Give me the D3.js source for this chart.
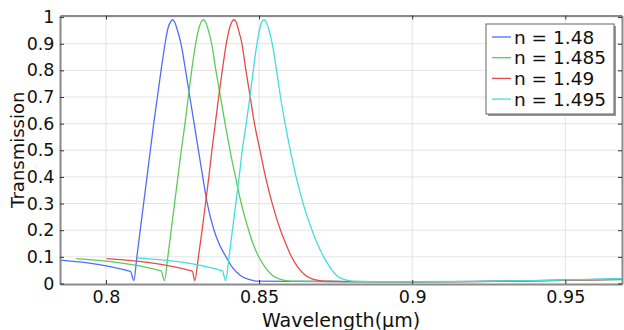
<!DOCTYPE html>
<html lang="en">
<head>
<meta charset="utf-8">
<script src="https://cdn.jsdelivr.net/npm/d3@7"></script>
<style>
  body { margin: 0; background: #fff; }
  svg { font-family: "DejaVu Sans", sans-serif; }
</style>
</head>
<body>
<div id="chart"></div>
<script>
// series names and colours
var names = ["n = 1.48", "n = 1.485", "n = 1.49", "n = 1.495"];
var colors = ["#4f6ef7", "#5bcc5b", "#e84a4a", "#44dddd"];

// wavelength (µm) / transmission
var lam148 = [0.7800, 0.8080, 0.8091, 0.8101, 0.8112, 0.8123, 0.8134, 0.8145, 0.8156, 0.8168, 0.8180, 0.8193, 0.8203, 0.8210, 0.8217,
  0.8225, 0.8231, 0.8245, 0.8260, 0.8274, 0.8288, 0.8302, 0.8316, 0.8331, 0.8353, 0.8369, 0.8392, 0.8413, 0.8439, 0.8466, 0.8492,
  0.8600, 0.8800, 0.9000, 0.9200, 0.9400, 0.9700];
var t148 = [0.092, 0.045, 0.011, 0.100, 0.200, 0.300, 0.400, 0.500, 0.600, 0.700, 0.800, 0.900, 0.960, 0.980, 0.990,
  0.980, 0.960, 0.900, 0.800, 0.700, 0.600, 0.500, 0.400, 0.300, 0.200, 0.150, 0.100, 0.060, 0.030, 0.015, 0.009,
  0.008, 0.007, 0.006, 0.008, 0.011, 0.017];

var lam1485 = [0.7903, 0.8180, 0.8191, 0.8202, 0.8213, 0.8224, 0.8235, 0.8246, 0.8258, 0.8269, 0.8280, 0.8293, 0.8304, 0.8310, 0.8318,
  0.8326, 0.8332, 0.8345, 0.8359, 0.8374, 0.8389, 0.8405, 0.8423, 0.8442, 0.8466, 0.8480, 0.8499, 0.8520, 0.8544, 0.8570, 0.8603,
  0.8800, 0.9000, 0.9200, 0.9400, 0.9700];
var t1485 = [0.093, 0.047, 0.011, 0.100, 0.200, 0.300, 0.400, 0.500, 0.600, 0.700, 0.800, 0.900, 0.960, 0.980, 0.990,
  0.980, 0.960, 0.900, 0.800, 0.700, 0.600, 0.500, 0.400, 0.300, 0.200, 0.150, 0.100, 0.060, 0.030, 0.015, 0.009,
  0.007, 0.006, 0.007, 0.010, 0.015];

var lam149 = [0.8002, 0.8282, 0.8290, 0.8302, 0.8314, 0.8325, 0.8336, 0.8346, 0.8357, 0.8368, 0.8380, 0.8393, 0.8404, 0.8410, 0.8418,
  0.8426, 0.8431, 0.8444, 0.8457, 0.8471, 0.8485, 0.8503, 0.8521, 0.8543, 0.8570, 0.8587, 0.8606, 0.8627, 0.8652, 0.8678, 0.8711,
  0.8850, 0.9000, 0.9200, 0.9400, 0.9700];
var t149 = [0.093, 0.046, 0.011, 0.100, 0.200, 0.300, 0.400, 0.500, 0.600, 0.700, 0.800, 0.900, 0.960, 0.980, 0.990,
  0.980, 0.960, 0.900, 0.800, 0.700, 0.600, 0.500, 0.400, 0.300, 0.200, 0.150, 0.100, 0.060, 0.030, 0.015, 0.009,
  0.007, 0.007, 0.007, 0.010, 0.016];

var lam1495 = [0.8102, 0.8380, 0.8391, 0.8402, 0.8413, 0.8424, 0.8435, 0.8445, 0.8458, 0.8470, 0.8481, 0.8493, 0.8503, 0.8508, 0.8516,
  0.8524, 0.8530, 0.8543, 0.8557, 0.8570, 0.8585, 0.8602, 0.8621, 0.8644, 0.8673, 0.8690, 0.8711, 0.8732, 0.8753, 0.8776, 0.8806,
  0.8950, 0.9200, 0.9400, 0.9700];
var t1495 = [0.096, 0.047, 0.011, 0.100, 0.200, 0.300, 0.400, 0.500, 0.600, 0.700, 0.800, 0.900, 0.960, 0.980, 0.990,
  0.980, 0.960, 0.900, 0.800, 0.700, 0.600, 0.500, 0.400, 0.300, 0.200, 0.150, 0.100, 0.060, 0.030, 0.015, 0.009,
  0.007, 0.008, 0.011, 0.018];

var xTicks = [0.8, 0.85, 0.9, 0.95];
var yTicks = [0, 0.1, 0.2, 0.3, 0.4, 0.5, 0.6, 0.7, 0.8, 0.9, 1];

var series = [
  {name: names[0], color: colors[0], x: lam148, y: t148},
  {name: names[1], color: colors[1], x: lam1485, y: t1485},
  {name: names[2], color: colors[2], x: lam149, y: t149},
  {name: names[3], color: colors[3], x: lam1495, y: t1495}
];

var w = 624, h = 330;
// plot box (note: "top" is taken by window.top, so use mTop etc.)
var mLeft = 60, mRight = 622, mTop = 15.5, mBottom = 284;

var svg = d3.select("#chart").append("svg")
  .attr("width", w)
  .attr("height", h);

var x = d3.scaleLinear().domain([0.785, 0.9685]).range([mLeft, mRight]);
var y = d3.scaleLinear().domain([-0.002, 1.006]).range([mBottom, mTop]);

// grid
svg.append("g").selectAll("line")
  .data(xTicks).enter().append("line")
  .attr("x1", d => x(d)).attr("x2", d => x(d))
  .attr("y1", mTop).attr("y2", mBottom)
  .attr("stroke", "#e4e4e4").attr("stroke-width", 1);
svg.append("g").selectAll("line")
  .data(yTicks.slice(1)).enter().append("line")
  .attr("x1", mLeft).attr("x2", mRight)
  .attr("y1", d => y(d)).attr("y2", d => y(d))
  .attr("stroke", "#e4e4e4").attr("stroke-width", 1);

// curves
svg.append("clipPath").attr("id", "clip")
  .append("rect")
  .attr("x", mLeft).attr("y", mTop)
  .attr("width", mRight - mLeft).attr("height", mBottom - mTop);

var line = d3.line()
  .x(d => x(d[0]))
  .y(d => y(d[1]))
  .curve(d3.curveMonotoneX);

svg.append("g").attr("clip-path", "url(#clip)")
  .selectAll("path")
  .data(series).enter().append("path")
  .attr("d", s => line(d3.zip(s.x, s.y)))
  .attr("fill", "none")
  .attr("stroke", s => s.color)
  .attr("stroke-width", 1.3);

// axes (ticks point inward, like the original)
var tickLen = 4;
var fmt = d3.format("~g");
var xAxis = d3.axisBottom(x).tickValues(xTicks).tickSizeInner(-tickLen).tickSizeOuter(0).tickPadding(7).tickFormat(fmt);
var yAxis = d3.axisLeft(y).tickValues(yTicks).tickSizeInner(-tickLen).tickSizeOuter(0).tickPadding(5.5).tickFormat(fmt);

var gx = svg.append("g").attr("transform", "translate(0," + mBottom + ")").call(xAxis);
var gy = svg.append("g").attr("transform", "translate(" + mLeft + ",0)").call(yAxis);
var gx2 = svg.append("g").attr("transform", "translate(0," + mTop + ")")
  .call(d3.axisTop(x).tickValues(xTicks).tickSizeInner(-tickLen).tickSizeOuter(0).tickFormat(""));
var gy2 = svg.append("g").attr("transform", "translate(" + mRight + ",0)")
  .call(d3.axisRight(y).tickValues(yTicks).tickSizeInner(-tickLen).tickSizeOuter(0).tickFormat(""));

[gx, gy, gx2, gy2].forEach(g => {
  g.select(".domain").attr("stroke", "#8a8a8a").attr("stroke-width", 2);
  g.selectAll(".tick line").attr("stroke", "#333");
  g.selectAll("text").attr("font-family", "DejaVu Sans").attr("font-size", 17.5).attr("fill", "#111");
});

// axis titles
svg.append("text")
  .attr("x", (mLeft + mRight) / 2)
  .attr("y", 326.5)
  .attr("text-anchor", "middle")
  .attr("font-size", 19)
  .attr("fill", "#111")
  .text("Wavelength(µm)");

svg.append("text")
  .attr("transform", "translate(24," + ((mTop + mBottom) / 2) + ") rotate(-90)")
  .attr("text-anchor", "middle")
  .attr("font-size", 18)
  .attr("fill", "#111")
  .text("Transmission");

// legend
var lx = 486, ly = 24, lw = 128, lh = 90;
svg.append("rect")
  .attr("x", lx + 2).attr("y", ly + 2).attr("width", lw).attr("height", lh)
  .attr("fill", "#999");
svg.append("rect")
  .attr("x", lx).attr("y", ly).attr("width", lw).attr("height", lh)
  .attr("fill", "#fff").attr("stroke", "#666").attr("stroke-width", 1);

var items = svg.append("g").selectAll("g")
  .data(series).enter().append("g")
  .attr("transform", (d, i) => "translate(" + lx + "," + (ly + 13 + i * 20.7) + ")");
items.append("line")
  .attr("x1", 6).attr("x2", 25)
  .attr("stroke", d => d.color).attr("stroke-width", 1.3);
items.append("text")
  .attr("x", 28).attr("y", 6.5)
  .attr("font-size", 18.5)
  .attr("fill", "#111")
  .text(d => d.name);
</script>
</body>
</html>
